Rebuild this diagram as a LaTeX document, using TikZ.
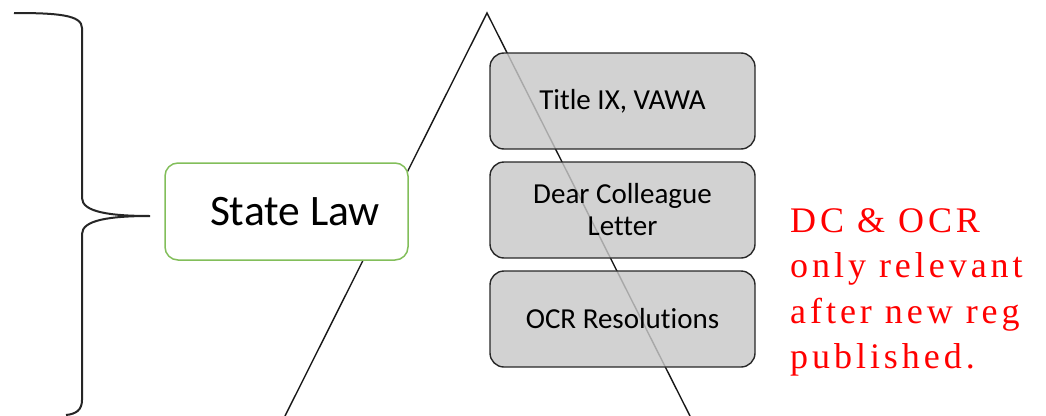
\documentclass[tikz,border=0pt]{standalone}
\usepackage{fontspec}
\setmainfont[Ligatures=NoCommon]{Carlito}
\newfontfamily\redfont[LetterSpace=11]{Liberation Serif}
\definecolor{boxgreen}{RGB}{130,190,90}
\definecolor{boxgray}{RGB}{200,200,200}
\definecolor{boxedge}{RGB}{40,40,40}
\definecolor{notered}{RGB}{255,0,0}
\tikzset{
  statebox/.style={draw=boxgreen, fill=white, line width=1.5pt, rounded corners=13pt,
    minimum width=243pt, minimum height=97pt, inner sep=0pt,
    font=\fontsize{43.5}{48}\selectfont},
  graybox/.style={draw=boxedge, fill=boxgray, fill opacity=0.82, text opacity=1,
    line width=1.4pt, rounded corners=14pt, minimum width=265pt, minimum height=96pt,
    inner sep=0pt, align=center, font=\fontsize{29}{32}\selectfont},
  bracestyle/.style={draw=black!85, line width=2pt},
  tri/.style={draw=black!90, line width=1.4pt},
  note/.style={text=notered, align=left, inner sep=0pt,
    font=\redfont\fontsize{36}{45.5}\selectfont}
}
\begin{document}
\begin{tikzpicture}[x=1pt,y=-1pt]
\useasboundingbox (0,0) rectangle (1046,415);
% brace
\coordinate (bt) at (14,13);
\coordinate (bm) at (150,216);
\coordinate (bb) at (66,415);
\draw[bracestyle] (bt) .. controls (58,13) and (82,15) .. (82,28)
  -- (82,198) .. controls (82,212) and (110,216) .. (bm)
  .. controls (110,216) and (82,220) .. (82,234)
  -- (82,400) .. controls (82,410) and (76,414) .. (bb);
% triangle lines
\coordinate (apex) at (487,13);
\coordinate (lb) at (285,416);
\coordinate (rb) at (690,416);
\draw[tri] (lb) -- (apex) -- (rb);
% nodes
\node[statebox] (state) at (286.5,211.5) {\hspace*{17pt}State Law};
\node[graybox] (t9) at (622.5,101) {Title IX, VAWA};
\node[graybox] (dcl) at (622.5,210) {Dear Colleague\\Letter};
\node[graybox] (ocr) at (622.5,319) {OCR Resolutions};
\node[note, anchor=north west] (note) at (790,208)
  {DC \& OCR\\only relevant\\after new reg\\published.};
\end{tikzpicture}
\end{document}
